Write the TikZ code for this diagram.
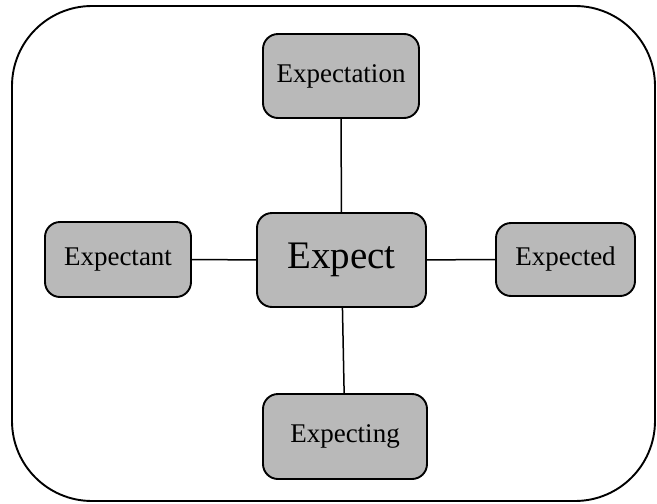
\documentclass[tikz,border=0pt]{standalone}
\usepackage{fontspec}
\setmainfont{Liberation Serif}
\definecolor{boxgray}{RGB}{185,185,185}

\begin{document}
\begin{tikzpicture}[x=1pt,y=-1pt,every node/.style={draw,fill=boxgray,rounded corners=15pt,line width=1.9pt,inner sep=0pt,font=\fontsize{27}{30}\selectfont}]
\useasboundingbox (0,0) rectangle (657,504);
\draw[line width=1.9pt,rounded corners=80pt] (12,6) rectangle (655,501);

\node[minimum width=169pt,minimum height=94pt,font=\fontsize{39}{44}\selectfont](c) at (341.5,260) {Expect};
\node[minimum width=156pt,minimum height=84pt](n) at (341,76) {Expectation};
\node[minimum width=146pt,minimum height=75pt](w) at (118,259.5) {Expectant};
\node[minimum width=139pt,minimum height=73pt](e) at (565.5,259.5) {Expected};
\node[minimum width=164pt,minimum height=85pt](s) at (345,436.5) {Expecting};

\foreach \x in {n,w,e,s}{
	\draw[line width=1.5pt](c)--(\x);
}
\end{tikzpicture}
\end{document}
